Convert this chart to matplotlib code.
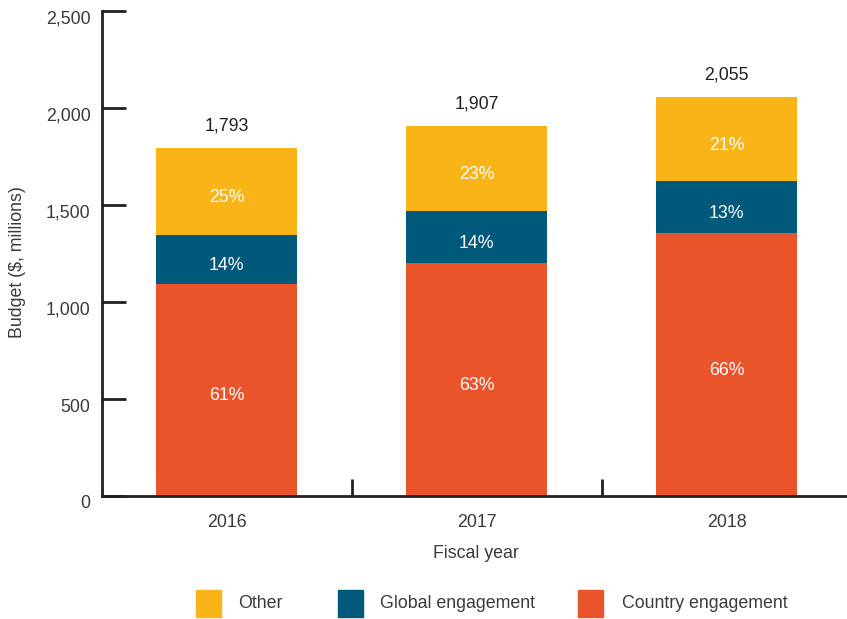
"""Stacked budget bars by fiscal year."""

import matplotlib

matplotlib.use("Agg")
import matplotlib.pyplot as plt
import matplotlib.transforms as mtransforms
import numpy as np
from matplotlib.patches import Rectangle

years = ["2016", "2017", "2018"]
country = [1094, 1201, 1356]
global_eng = [251, 267, 267]
other = [448, 439, 432]
totals = ["1,793", "1,907", "2,055"]
country_pct = ["61%", "63%", "66%"]
global_pct = ["14%", "14%", "13%"]
other_pct = ["25%", "23%", "21%"]

legend_labels = ["Other", "Global engagement", "Country engagement"]

C_OTHER = "#F9B418"
C_GLOBAL = "#00587A"
C_COUNTRY = "#EA542B"
INK = "#231F20"
GREY = "#3A3A3A"
FS = 12.8

plt.rcParams["font.family"] = ["Liberation Sans", "DejaVu Sans"]

W, H = 847, 619
fig = plt.figure(figsize=(W / 100, H / 100), dpi=100)
ax = fig.add_axes([101.5 / W, 1 - 496 / H, 750 / W, 485 / H])

x = np.arange(len(years))
width = 0.564
country = np.asarray(country)
global_eng = np.asarray(global_eng)
other = np.asarray(other)

ax.bar(x, country, width, color=C_COUNTRY, zorder=2)
ax.bar(x, global_eng, width, bottom=country, color=C_GLOBAL, zorder=2)
ax.bar(x, other, width, bottom=country + global_eng, color=C_OTHER, zorder=2)

# segment labels sit a touch below the middle of each block
down = ax.transData + mtransforms.ScaledTranslation(0, -6 / 100, fig.dpi_scale_trans)
for i in range(len(years)):
    ax.text(x[i], country[i] / 2, country_pct[i], ha="center", va="center",
            color="white", fontsize=FS, transform=down)
    ax.text(x[i], country[i] + global_eng[i] / 2, global_pct[i], ha="center",
            va="center", color="white", fontsize=FS, transform=down)
    top = country[i] + global_eng[i] + other[i]
    ax.text(x[i], top - other[i] / 2, other_pct[i], ha="center", va="center",
            color="white", fontsize=FS, transform=down)
    ax.text(x[i], top + 115, totals[i], ha="center", va="center",
            color=INK, fontsize=FS)

ax.set_xlim(-0.5, 2.5)
ax.set_ylim(0, 2500)
ax.set_yticks(np.arange(0, 2501, 500))
ax.set_yticklabels([f"{v:,}" for v in range(0, 2501, 500)])
ax.tick_params(axis="y", direction="in", length=17, width=2, color=INK,
               labelsize=FS, labelcolor=GREY, pad=8)
shift = mtransforms.ScaledTranslation(0, -6 / 100, fig.dpi_scale_trans)
for lbl in ax.get_yticklabels():
    lbl.set_transform(lbl.get_transform() + shift)

ax.set_xticks([0.5, 1.5])
ax.set_xticklabels([])
ax.tick_params(axis="x", which="major", direction="in", length=12, width=2,
               color=INK)
ax.set_xticks(x, minor=True)
ax.set_xticklabels(years, minor=True)
ax.tick_params(axis="x", which="minor", length=0, labelsize=FS,
               labelcolor=GREY, pad=13)

for side in ("top", "right"):
    ax.spines[side].set_visible(False)
for side in ("left", "bottom"):
    ax.spines[side].set_linewidth(2)
    ax.spines[side].set_color(INK)

fig.text(476 / W, 1 - 554 / H, "Fiscal year", ha="center", va="center",
         fontsize=FS, color=GREY)
fig.text(18 / W, 1 - 262 / H, "Budget ($, millions)", ha="center",
         va="center", rotation=90, fontsize=FS, color=GREY)

# legend drawn by hand under the plot
for xs, xt, color, label in zip((196, 338, 578), (238, 380, 622),
                                (C_OTHER, C_GLOBAL, C_COUNTRY), legend_labels):
    fig.patches.append(Rectangle((xs / W, 1 - 617 / H), 25 / W, 27 / H,
                                 transform=fig.transFigure, color=color))
    fig.text(xt / W, 1 - 604 / H, label, ha="left", va="center",
             fontsize=FS, color=GREY)

fig.savefig("out.png", dpi=100)
